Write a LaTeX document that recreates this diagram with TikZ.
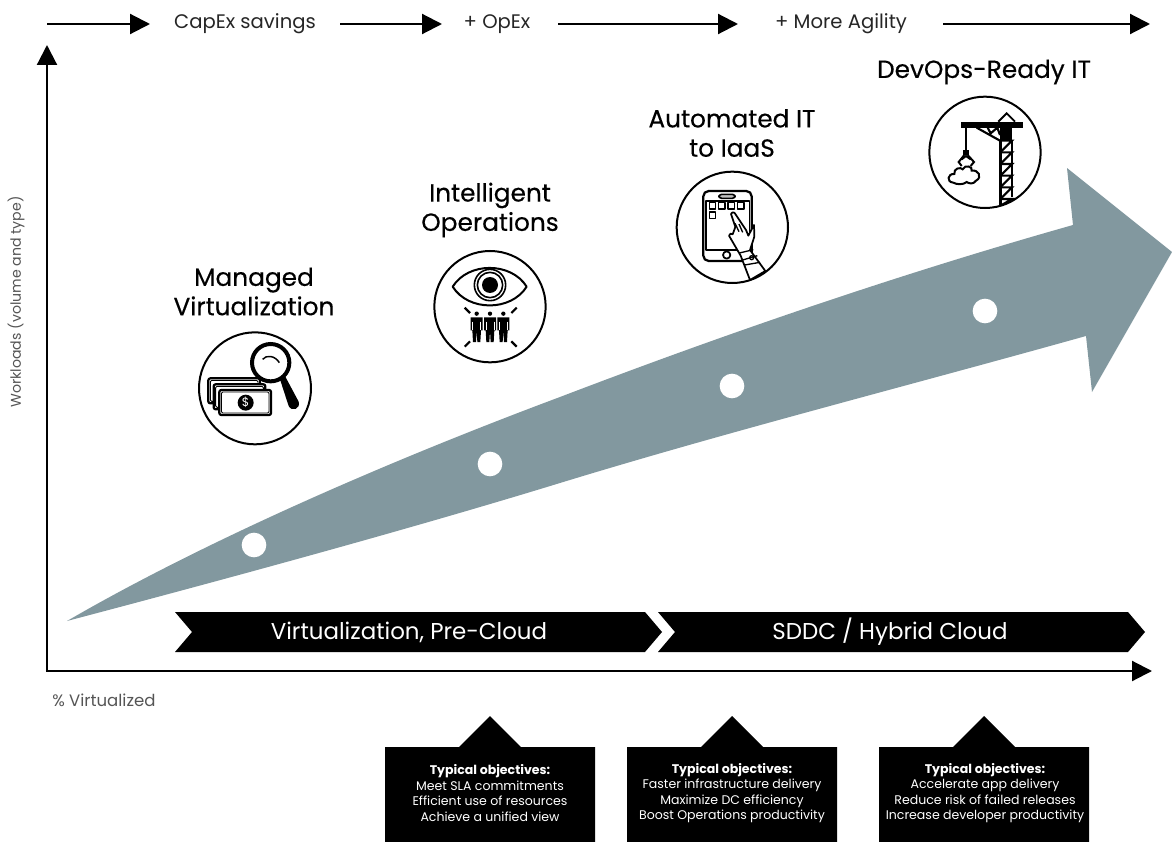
\documentclass[tikz,border=0pt]{standalone}
\usepackage{fontspec}
\setmainfont{Poppins}
\newfontfamily\medfont{Poppins}[FakeBold=0.35]
\usetikzlibrary{arrows.meta}
\definecolor{slate}{HTML}{82989F}
\definecolor{greytext}{HTML}{555555}
\tikzset{
  axisline/.style={line width=1.6pt,-{Triangle[length=15pt,width=15pt]}},
  toplabel/.style={font=\fontsize{14.7}{16}\selectfont,text=black!85,inner sep=0pt},
  title/.style={font=\medfont\fontsize{18.6}{22}\selectfont,align=center,inner sep=0pt,text=black},
  band/.style={fill=black,draw=none},
  bandtext/.style={font=\fontsize{17.2}{20}\selectfont,text=white,inner sep=0pt},
  callout/.style={fill=black,draw=none},
  calltext/.style={font=\fontsize{9.4}{11.6}\selectfont,text=white,align=center,inner sep=0pt},
  dot/.style={circle,fill=white,draw=none,minimum size=18.5pt,inner sep=0pt},
  ring/.style={draw=black,line width=1.5pt,fill=white},
  ic/.style={x=.25pt,y=-.25pt},
  thin1/.style={draw=black,line width=1pt,line join=round},
  med/.style={draw=black,line width=1.5pt,line join=round},
}
\begin{document}
\begin{tikzpicture}[x=.75pt,y=-.75pt]
\useasboundingbox (0,0) rectangle (1172,842);

% big arrow
\fill[slate] (67,621) .. controls (217,534) and (410,453) .. (560,397)
  .. controls (730,332) and (903,273) .. (1073,225)
  -- (1067,168) -- (1172,252) -- (1092,392) -- (1086,336)
  .. controls (900,388) and (730,431) .. (560,483)
  .. controls (410,529) and (230,578) .. (67,621) -- cycle;
\node[dot] (d1) at (254,545) {};
\node[dot] (d2) at (490,464) {};
\node[dot] (d3) at (732,386) {};
\node[dot] (d4) at (985,311) {};

% top row
\coordinate (t0) at (47,24);
\node[toplabel] (t1) at (245,24) {CapEx savings};
\node[toplabel] (t2) at (497,24) {+ OpEx};
\node[toplabel] (t3) at (841,24) {+ More Agility};
\coordinate (t4) at (1150,24);
\coordinate (a1) at (150,24);
\coordinate (b1) at (340,24);
\coordinate (a2) at (442,24);
\coordinate (b2) at (558,24);
\coordinate (a3) at (738,24);
\coordinate (b3) at (943,24);
\draw[axisline] (t0) -- (a1);
\draw[axisline] (b1) -- (a2);
\draw[axisline] (b2) -- (a3);
\draw[axisline] (b3) -- (t4);

% axes
\coordinate (o) at (47,671);
\coordinate (yend) at (47,45);
\coordinate (xend) at (1152,671);
\draw[axisline] (o) -- (yend);
\draw[axisline] ([xshift=-.8pt]o) -- (xend);
\node[rotate=90,font=\fontsize{10.6}{12}\selectfont,text=greytext,inner sep=0pt] (ylab) at (16,302) {Workloads (volume and type)};
\node[anchor=west,font=\fontsize{12.4}{14}\selectfont,text=greytext,inner sep=0pt] (xlab) at (52,700) {\% Virtualized};

% bands
\fill[band] (175,612) -- (645,612) -- (662,632) -- (645,652) -- (175,652) -- (192,632) -- cycle;
\fill[band] (658,612) -- (1128,612) -- (1145,632) -- (1128,652) -- (658,652) -- (675,632) -- cycle;
\node[bandtext] (b1t) at (409,632) {Virtualization, Pre-Cloud};
\node[bandtext] (b2t) at (890,632) {SDDC / Hybrid Cloud};

% callouts
\foreach \cx in {490,732,984}{
  \fill[callout] (\cx-105,747) -- (\cx-31,747) -- (\cx,716) -- (\cx+31,747) -- (\cx+105,747) -- (\cx+105,842) -- (\cx-105,842) -- cycle;
}
\node[calltext] (c1) at (490,793) {\textbf{Typical objectives:}\\Meet SLA commitments\\Efficient use of resources\\Achieve a unified view};
\node[calltext] (c2) at (732,793) {\textbf{Typical objectives:}\\Faster infrastructure delivery\\Maximize DC efficiency\\Boost Operations productivity};
\node[calltext] (c3) at (985,793) {\textbf{Typical objectives:}\\Accelerate app delivery\\Reduce risk of failed releases\\Increase developer productivity};

% titles
\node[title] (h1) at (254,291.5) {Managed\\Virtualization};
\node[title] (h2) at (490,210) {Intelligent\\Operations};
\node[title] (h3) at (732,133) {Automated IT\\to IaaS};
\node[title] (h4) at (984,72) {DevOps-Ready IT};

% icon 1
\begin{scope}[shift={(180,320)},ic]
  \draw[ring] (225,205) circle (168);
  \foreach \dx/\dy in {0/0,16/18,33/35}{
    \draw[med,fill=white,rounded corners=1.5pt,line width=1.7pt] (85+\dx,175+\dy) rectangle (240+\dx,250+\dy);
    \draw[thin1,line width=.7pt,rounded corners=1pt] (91+\dx,181+\dy) rectangle (234+\dx,244+\dy);
  }
  \fill (197,248) circle (24);
  \node[text=white,font=\fontsize{9}{9}\selectfont,inner sep=0pt] at (197,248) {\$};
  \draw[draw=black,line width=3pt,fill=white] (272,128) circle (56);
  \draw[line width=1.1pt] (248,118) .. controls (258,104) and (285,106) .. (298,128);
  \fill (300,178) -- (316,170) -- (356,245) .. controls (362,268) and (335,276) .. (326,258) -- cycle;
\end{scope}

% icon 2
\begin{scope}[shift={(425,245)},ic]
  \draw[ring] (195,185) circle (167);
  \draw[med] (83,125) .. controls (130,50) and (258,50) .. (305,125) .. controls (258,200) and (130,200) .. (83,125) -- cycle;
  \draw[line width=1.2pt] (195,120) circle (47);
  \draw[line width=1.2pt] (195,120) circle (38);
  \fill (195,120) circle (24);
  \foreach \px in {155,195,235}{
    \fill (\px,206) circle (6.5);
    \fill (\px-18,217) -- (\px+18,217) -- (\px+18,256) -- (\px+13,256) -- (\px+11,291) -- (\px+2,291) -- (\px,256) -- (\px-2,291) -- (\px-11,291) -- (\px-13,256) -- (\px-18,256) -- cycle;
    \draw[white,line width=.5pt] (\px-12,230) -- (\px-12,256) (\px+12,230) -- (\px+12,256);
  }
  \draw[line width=1.6pt] (119,188) -- (135,204);
  \draw[line width=1.6pt] (275,188) -- (259,204);
  \draw[line width=1.6pt] (119,305) -- (135,289);
  \draw[line width=1.6pt] (275,305) -- (259,289);
\end{scope}

% icon 3
\begin{scope}[shift={(670,165)},ic]
  \draw[ring] (187,187) circle (167);
  \draw[med,rounded corners=4pt,line width=1.7pt] (100,78) rectangle (245,288);
  \draw[med,line width=1.2pt,fill=white] (108,108) rectangle (238,255);
  \draw[line width=1.8pt] (108,108) -- (238,108);
  \draw[med,rounded corners=2pt,line width=1.2pt,fill=black!25] (147,88) rectangle (195,100);
  \draw[med,line width=1.3pt] (170,270) circle (11);
  \foreach \sx/\sy in {118/113,146/113,174/113,203/113,118/141}{
    \draw[thin1,fill=white] (\sx,\sy) rectangle ++(19,19);
  }
  \draw[med,fill=white,line width=1.3pt] (183,147) .. controls (188,138) and (194,142) .. (198,150)
    -- (228,195) -- (235,212) -- (252,180) -- (253,215) -- (240,255)
    -- (286,318) -- (240,345) -- (212,272) -- (177,212) .. controls (178,204) and (185,205) .. (188,208)
    -- (196,186) -- cycle;
  \draw[thin1] (208,264) -- (250,254);
  \draw[thin1] (218,285) -- (262,272);
  \draw[thin1] (224,300) -- (270,292);
  \draw[thin1] (245,278) circle (6);
  \draw[thin1] (195,175) -- (207,200);
  \draw[thin1] (207,177) -- (218,202);
\end{scope}

% icon 4
\begin{scope}[shift={(920,90)},ic]
  \draw[ring] (195,187) circle (167);
  \fill (122,95) rectangle (310,113);
  \fill (240,113) rectangle (277,152);
  \draw[line width=1.4pt] (235,95) -- (260,70) -- (285,95);
  \draw[line width=1.6pt] (170,113) -- (240,152) (203,113) -- (212,130) -- (232,113) -- (240,135);
  \draw[line width=2pt] (241,152) -- (241,345) (276,152) -- (276,320);
  \foreach \ty in {152,187,222,257,292}{
    \draw[line width=1.6pt] (241,\ty) -- (276,\ty) -- (241,\ty+35);
  }
  \draw[line width=1.6pt] (241,327) -- (276,327) -- (245,345);
  \draw[line width=1.6pt] (137,113) -- (137,182);
  \fill (128,180) rectangle (148,195);
  \draw[line width=1.5pt] (133,195) -- (116,216) -- (125,228) (143,195) -- (162,216) -- (152,228) (125,208) -- (138,198) -- (152,208);
  \draw[line width=1.5pt,fill=white] (100,278) .. controls (78,276) and (83,250) .. (103,252)
     .. controls (100,235) and (122,230) .. (128,238)
     .. controls (135,222) and (160,230) .. (155,242)
     .. controls (175,238) and (188,262) .. (168,272)
     .. controls (160,285) and (145,280) .. (140,276)
     .. controls (130,285) and (110,284) .. (100,278) -- cycle;
\end{scope}
\end{tikzpicture}
\end{document}
